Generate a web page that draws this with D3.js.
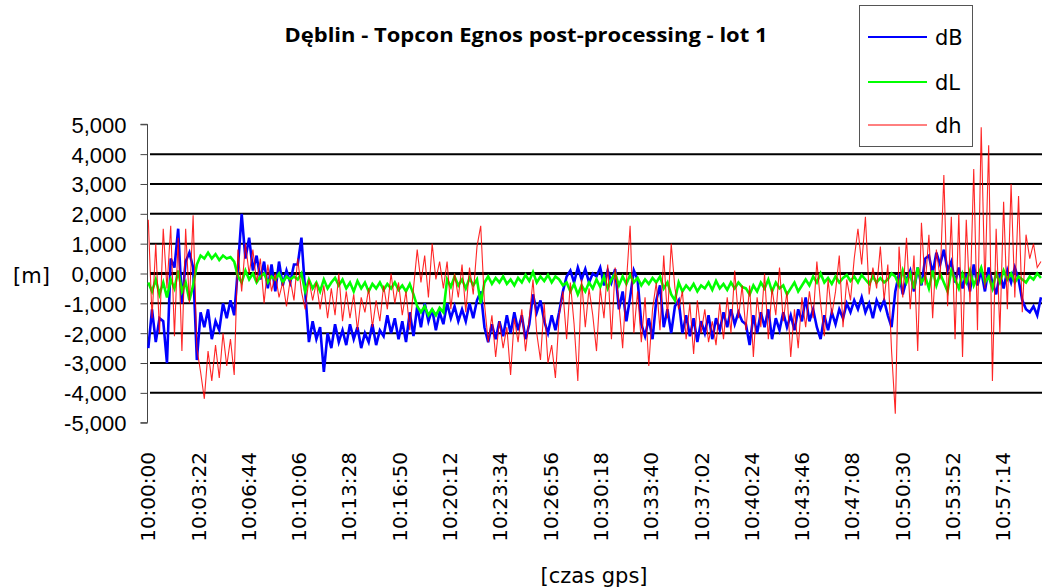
<!DOCTYPE html>
<html><head><meta charset="utf-8">
<script src="https://cdn.jsdelivr.net/npm/d3@7"></script>
<style>
html,body{margin:0;padding:0;background:#fff;}
svg{display:block;}
</style>
</head><body>
<div id="chart"></div>
<script>
const title = "Dęblin - Topcon Egnos post-processing - lot 1";
const yTicks = [-5, -4, -3, -2, -1, 0, 1, 2, 3, 4, 5];
const xTickLabels = ["10:00:00","10:03:22","10:06:44","10:10:06","10:13:28","10:16:50","10:20:12","10:23:34","10:26:56","10:30:18","10:33:40","10:37:02","10:40:24","10:43:46","10:47:08","10:50:30","10:53:52","10:57:14"];
const startTime = "10:00:00";
const sampleStepSec = 15;
const seriesNames = ["dB", "dL", "dh"];
const seriesColors = ["#0000ff", "#00ff00", "#ff0000"];

const dB = [
-2.5,-1.2,-2.3,-1.5,-1.6,-3.0,0.5,0.2,1.5,-1.0,0.4,0.7,0.2,-2.9,-1.3,-1.8,-1.2,-2.2,-1.6,-1.9,-1.0,-1.5,-0.9,-1.4,0.2,2.0,0.5,1.2,0.1,0.6,-0.2,0.4,-0.5,0.3,-0.6,0.4,-0.4,0.1,-0.3,0.3,
0.3,1.2,-0.6,-2.3,-1.6,-2.2,-1.8,-3.3,-2.0,-2.5,-1.7,-2.3,-1.9,-2.4,-1.7,-2.2,-1.8,-2.5,-2.0,-2.3,-1.7,-2.4,-1.9,-2.1,-1.4,-2.0,-1.5,-2.2,-1.6,-2.3,-1.3,-2.1,-1.1,-1.8,-1.0,-1.6,-1.2,-1.9,-1.3,-1.7,
-1.0,-1.5,-1.1,-1.6,-1.2,-1.6,-1.0,-1.5,-0.9,-0.6,-1.8,-2.3,-1.7,-2.2,-1.6,-2.1,-1.4,-2.0,-1.3,-1.9,-1.4,-2.2,-1.7,-0.7,-1.3,-0.9,-1.6,-2.0,-1.4,-1.9,-1.3,-0.6,-0.1,0.1,-0.3,0.2,-0.2,0.15,-0.3,0.0,
-0.1,0.2,-0.4,0.1,-0.3,0.15,-1.2,-0.6,-1.6,-0.8,0.1,-0.2,-1.7,-2.1,-1.5,-2.2,-0.9,-0.4,-1.8,-1.2,-2.0,-1.1,-0.9,-2.0,-1.4,-2.1,-1.5,-2.3,-1.6,-2.0,-1.4,-2.2,-1.5,-1.9,-1.3,-1.8,-1.2,-1.7,-1.3,-1.6,
-1.7,-2.4,-1.4,-2.0,-1.3,-1.8,-1.2,-2.2,-1.5,-1.9,-1.3,-1.8,-1.4,-1.9,-1.2,-1.6,-0.8,-1.6,-1.2,-1.8,-2.2,-1.4,-1.9,-1.3,-1.7,-1.2,-1.5,-1.0,-1.3,-0.9,-1.2,-0.8,-1.3,-1.0,-1.5,-0.9,-1.2,-0.9,-1.4,-1.8,
-0.6,0.0,-0.7,-0.2,0.1,-0.6,0.2,-0.4,0.5,0.6,0.0,0.7,0.3,0.8,0.1,0.4,-0.3,0.2,-0.5,0.0,-0.6,0.3,-0.4,0.1,-0.6,0.2,-0.3,-0.7,0.0,-0.5,0.1,-0.3,0.2,-0.2,-0.9,-1.2,-1.3,-1.1,-1.4,-0.8
];
const dL = [
-0.3,-0.6,-0.2,-0.7,-0.3,-0.8,-0.2,-0.5,0.1,-0.6,-0.3,-0.9,-0.4,0.3,0.6,0.5,0.7,0.5,0.65,0.45,0.6,0.5,0.55,0.4,-0.1,-0.3,0.1,-0.2,0.0,-0.3,-0.1,0.0,-0.3,-0.1,-0.2,0.0,-0.3,-0.1,-0.2,-0.1,
-0.2,0.0,-0.6,-0.2,-0.5,-0.3,-0.6,-0.2,-0.5,-0.3,-0.15,-0.4,-0.2,-0.5,-0.3,-0.6,-0.25,-0.5,-0.3,-0.6,-0.35,-0.5,-0.3,-0.55,-0.35,-0.5,-0.3,-0.55,-0.4,-0.6,-0.35,-0.7,-1.1,-1.3,-1.1,-1.4,-1.2,-1.4,-1.15,-1.3,
-0.2,-0.45,-0.1,-0.4,-0.2,-0.5,-0.15,-0.4,-0.2,-1.0,-0.3,-0.1,-0.35,-0.15,-0.3,-0.1,-0.35,-0.2,-0.4,-0.15,-0.3,-0.05,-0.25,0.05,-0.3,-0.1,-0.25,-0.05,-0.3,-0.1,-0.2,-0.4,-0.3,-0.6,-0.35,-0.7,-0.4,-0.6,-0.3,-0.5,
-0.2,-0.45,-0.1,-0.5,-0.2,0.0,-0.4,-0.1,-0.35,-0.05,-0.3,-0.15,-0.4,-0.2,-0.35,-0.15,-0.3,-0.1,-0.5,-0.3,-0.7,-0.9,-0.3,-0.6,-0.4,-0.55,-0.35,-0.6,-0.4,-0.5,-0.3,-0.55,-0.25,-0.5,-0.35,-0.55,-0.3,-0.5,-0.3,-0.45,
-0.5,-0.7,-0.4,-0.6,-0.3,-0.5,-0.2,-0.6,-0.3,-0.5,-0.4,-0.7,-0.5,-0.3,-0.6,-0.4,-0.2,-0.4,-0.1,-0.3,0.0,-0.3,-0.15,-0.35,-0.1,-0.3,-0.15,-0.05,-0.25,-0.1,-0.3,-0.05,-0.2,-0.35,-0.1,-0.3,-0.15,-0.3,-0.2,0.0,
-0.1,-0.4,0.1,-0.3,0.0,-0.5,0.2,-0.3,-0.1,-0.5,0.1,-0.4,0.0,-0.3,-0.6,0.1,-0.2,-0.5,0.0,-0.3,0.1,-0.4,-0.1,0.2,-0.3,-0.1,-0.5,0.0,-0.3,0.1,-0.2,0.0,-0.3,-0.1,-0.2,-0.3,-0.1,-0.2,0.0,-0.15
];
const dh = [
1.8,-1.5,1.0,-2.0,1.5,-0.5,1.6,-2.1,1.2,-2.6,1.5,-1.0,1.95,-2.5,-3.3,-4.2,-2.6,-3.6,-2.4,-3.5,-2.0,-3.1,-2.2,-3.4,0.8,-0.6,1.0,0.0,0.8,-0.3,0.5,-1.0,0.3,-0.6,0.0,-0.8,-0.3,-1.1,-0.2,-0.9,
0.5,-0.6,-1.2,-0.2,-0.9,-0.3,-1.2,-0.4,-1.5,-0.5,-1.4,0.0,-1.6,-0.6,-1.5,-0.7,-1.9,-0.8,-1.3,-0.5,-1.8,-0.9,-1.6,-0.4,-1.2,0.0,-1.0,-0.3,-1.4,-0.6,-1.9,-0.5,0.8,-0.3,0.6,-0.8,1.0,-0.2,0.4,-0.5,
0.4,-1.2,0.0,-0.8,0.3,-1.3,0.2,-0.7,0.9,1.6,-1.0,-2.3,-1.4,-2.8,-1.6,-2.5,-1.8,-3.4,-1.5,-2.3,-1.2,-2.6,-1.5,-0.2,-2.0,-2.9,-1.0,-3.0,-2.4,-3.5,-1.4,-0.6,-2.2,-0.3,-1.7,-3.6,-0.2,-1.8,-0.5,-1.4,
-2.6,-0.5,-1.5,0.3,-2.2,0.2,-1.0,-2.5,-0.3,1.6,-2.0,-0.6,-2.3,-0.8,-3.1,-1.2,-0.3,-1.9,0.6,-1.5,1.0,-0.5,-1.2,-0.6,-2.2,-1.0,-2.7,-0.9,-2.0,-1.2,-2.3,-1.6,-2.4,-1.0,-2.2,-0.8,-2.0,0.1,-1.5,-0.4,
-1.9,-0.4,-2.8,-0.8,-1.8,0.0,-2.2,-0.5,-1.4,0.2,-1.6,-0.6,-2.8,-1.2,-2.5,-0.8,-1.8,-0.6,-1.5,0.4,-1.0,-2.1,-0.2,-1.4,-0.6,0.6,-1.8,-0.2,-0.9,0.5,1.5,0.3,1.9,-0.7,0.2,-0.5,0.9,-0.9,0.3,-2.6,
-4.7,0.9,-0.8,1.2,-1.2,0.6,-2.6,1.7,-0.4,1.3,-1.5,0.8,-0.2,3.3,-1.1,1.9,-2.2,2.0,-2.8,1.8,-1.0,3.5,-1.9,4.9,-0.5,4.3,-3.6,1.5,-2.0,2.4,-1.2,3.0,-0.8,2.6,-1.3,1.3,0.5,1.0,0.2,0.4
];
const series = [dB, dL, dh];

const W = 1042, H = 588;
const svg = d3.select("#chart").append("svg").attr("width", W).attr("height", H)
  .style("font-family", "'DejaVu Sans', Verdana, sans-serif");

function toSec(s){ const p = s.split(":").map(Number); return p[0]*3600 + p[1]*60 + p[2]; }
const t0 = toSec(startTime);

const x = d3.scaleLinear().domain([0, 3600]).range([148.3, 1044.7]);
const y = d3.scaleLinear().domain([-5, 5]).range([422.7, 124.3]);

// gridlines
svg.append("g").selectAll("line").data(yTicks.filter(v => v !== 5 && v !== -5)).join("line")
  .attr("x1", 150).attr("x2", W)
  .attr("y1", d => y(d)).attr("y2", d => y(d))
  .attr("stroke", "#000").attr("stroke-width", d => d === 0 ? 3 : 2);

// y axis
const yAxis = d3.axisLeft(y).tickValues(yTicks).tickSize(7).tickPadding(14)
  .tickFormat(d => d3.format(".3f")(d).replace(".", ",").replace("−", "-"));
const ga = svg.append("g").attr("transform", "translate(147.5,0)").call(yAxis);
ga.select(".domain").attr("stroke", "#444").attr("d", `M-7,${y(5)}H0V${y(-5)}H-7`);
ga.selectAll(".tick line").attr("stroke", "#444");
ga.selectAll("text").attr("font-size", 22).attr("fill", "#000").attr("dy", "0.36em");

// x tick labels
svg.append("g").selectAll("text").data(xTickLabels).join("text")
  .attr("transform", d => `translate(${x(toSec(d) - t0) + 7},452) rotate(-90)`)
  .attr("text-anchor", "end")
  .attr("font-size", 20)
  .text(d => d);

// series
const line = d3.line().x((d, i) => x(i * sampleStepSec)).y(d => y(d));
const widths = [2.6, 2.6, 1.1];
const opac = [1, 1, 0.85];
series.forEach((s, k) => {
  svg.append("path").datum(s).attr("d", line)
    .attr("fill", "none").attr("stroke", seriesColors[k])
    .attr("stroke-width", widths[k]).attr("stroke-opacity", opac[k])
    .attr("stroke-linejoin", "miter");
});

// title
svg.append("text").attr("x", 526).attr("y", 42).attr("text-anchor", "middle")
  .attr("font-family", "'Open Sans', sans-serif").attr("font-weight", "bold")
  .attr("font-size", 19).attr("textLength", 483).attr("lengthAdjust", "spacingAndGlyphs")
  .text(title);

// axis titles
svg.append("text").attr("x", 13).attr("y", 283).attr("font-size", 21).text("[m]");
svg.append("text").attr("x", 594).attr("y", 583).attr("text-anchor", "middle").attr("font-size", 21).text("[czas gps]");

// legend
const lg = svg.append("g");
lg.append("rect").attr("x", 859.5).attr("y", 5.5).attr("width", 113).attr("height", 141)
  .attr("fill", "#fff").attr("stroke", "#555").attr("stroke-width", 1);
const legY = [37, 82, 125];
seriesNames.forEach((n, k) => {
  lg.append("line").attr("x1", 868).attr("x2", 927).attr("y1", legY[k]).attr("y2", legY[k])
    .attr("stroke", seriesColors[k]).attr("stroke-width", k === 2 ? 1 : 2.2);
  lg.append("text").attr("x", 935).attr("y", legY[k] + 8).attr("font-size", 21).text(n);
});
</script>
</body></html>
